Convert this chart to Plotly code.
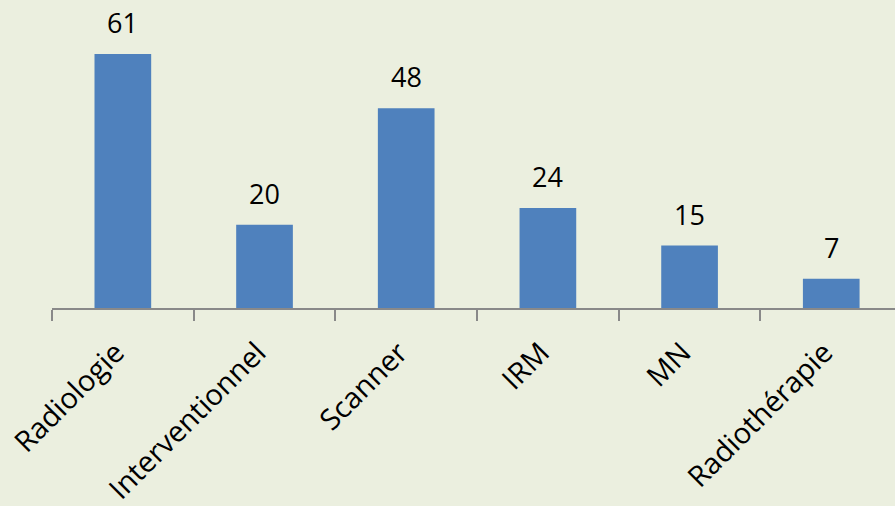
"""Bar chart: examens par modalité."""

import plotly.graph_objects as go

CATEGORIES = ["Radiologie", "Interventionnel", "Scanner", "IRM", "MN", "Radiothérapie"]
VALUES = [61, 20, 48, 24, 15, 7]

COLOR_BAR = "#4F81BD"
COLOR_BG = "#EBEFDF"
COLOR_AXIS = "#898989"
FONT = "Open Sans, Liberation Sans, sans-serif"

fig = go.Figure()

fig.add_trace(go.Bar(
    x=CATEGORIES,
    y=VALUES,
    marker=dict(color=COLOR_BAR, line=dict(width=0)),
    width=0.4,
    showlegend=False,
))

# valeurs au-dessus des barres
for cat, val in zip(CATEGORIES, VALUES):
    fig.add_annotation(
        x=cat, y=val, text=str(val),
        showarrow=False, yanchor="bottom", yshift=11,
        font=dict(family=FONT, size=27, color="#000000"),
    )

fig.update_layout(
    width=895,
    height=506,
    margin=dict(l=52, r=0, t=0, b=198),
    paper_bgcolor=COLOR_BG,
    plot_bgcolor=COLOR_BG,
    xaxis=dict(
        range=[-0.5, 5.45],
        tickson="boundaries",
        ticks="outside",
        ticklen=11,
        tickwidth=2,
        tickcolor=COLOR_AXIS,
        showline=True,
        linecolor=COLOR_AXIS,
        linewidth=2,
        showgrid=False,
        tickangle=-45,
        ticklabelstandoff=14,
        ticklabelshift=-7,
        tickfont=dict(family=FONT, size=29, color="#000000"),
    ),
    yaxis=dict(
        range=[0, 74],
        visible=False,
        showgrid=False,
        zeroline=False,
    ),
)

fig.write_html(
    "out.html",
    config={"displayModeBar": False},
    post_script="document.body.style.margin='0';document.body.style.overflow='hidden';",
)
